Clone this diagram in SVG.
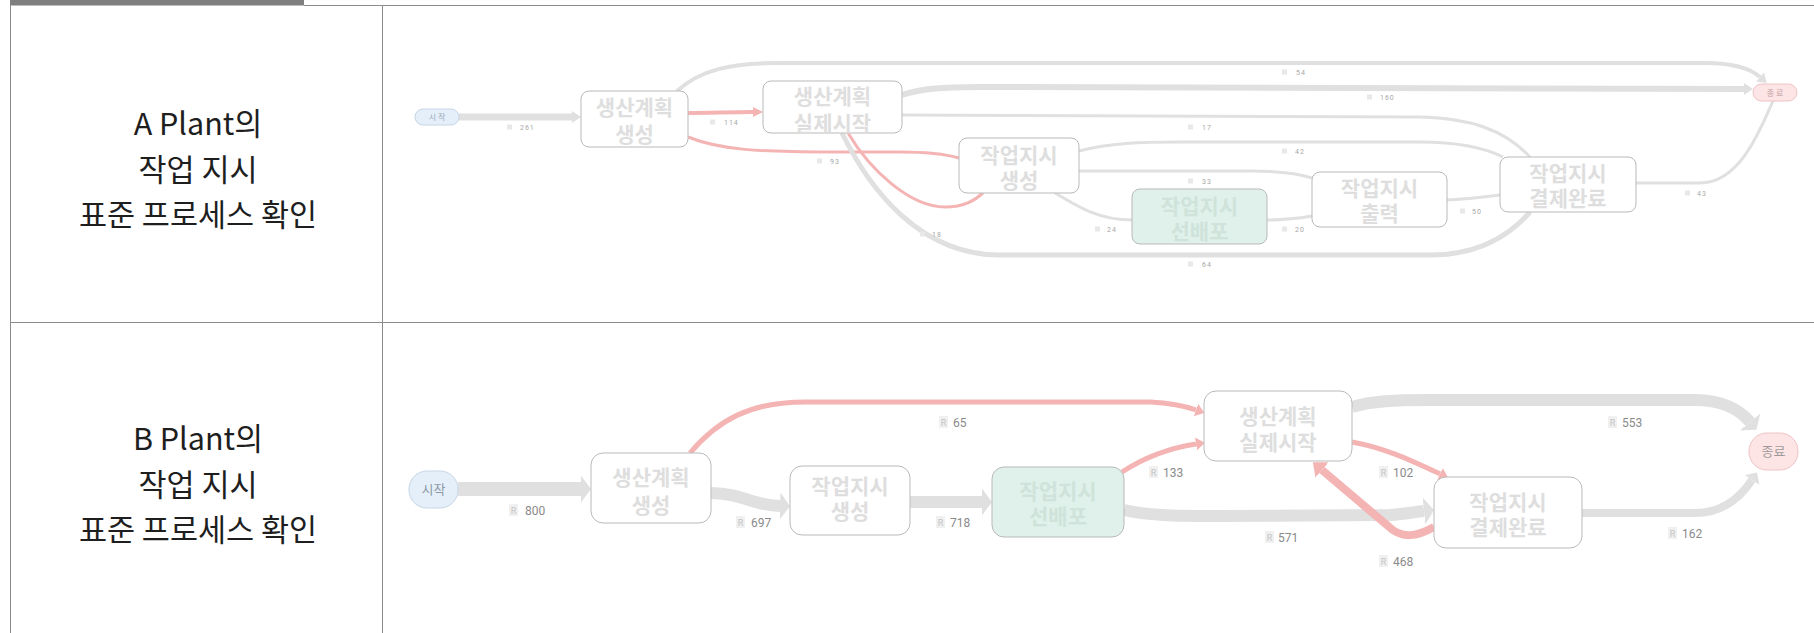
<svg xmlns="http://www.w3.org/2000/svg" width="1814" height="633" viewBox="0 0 1814 633">
<style>
.tbl{stroke:#8c8c8c;stroke-width:1;fill:none}
.ttl{font-family:"Noto Sans CJK KR","Noto Sans",sans-serif;font-size:30.5px;fill:#1e1e1e;text-anchor:middle}
.node rect{fill:#ffffff;stroke:#b9b9b9;stroke-width:1}
.node.green rect{fill:#dff1ea}
.nt{font-family:"Noto Sans CJK KR",sans-serif;font-weight:bold;font-size:21px;fill:#dedede;text-anchor:middle}
.green .nt{fill:#cfe3da}
.st rect{fill:#e4effa;stroke:#c6d5e5;stroke-width:1}
.en rect{fill:#fde4e5;stroke:#eec3c5;stroke-width:1}
.stA{font-family:"Noto Sans CJK KR",sans-serif;font-size:8px;letter-spacing:2px;fill:#9aa9ba;text-anchor:middle}
.enA{font-family:"Noto Sans CJK KR",sans-serif;font-size:8px;letter-spacing:2px;fill:#c4a3a5;text-anchor:middle}
.stB{font-family:"Noto Sans CJK KR",sans-serif;font-size:13px;fill:#8d98a4;text-anchor:middle}
.enB{font-family:"Noto Sans CJK KR",sans-serif;font-size:13px;fill:#a09a9a;text-anchor:middle}
.e{fill:none}
.g{stroke:#e0e0e0}
.r{stroke:#f5b4b4}
.ica{fill:#e8e8e8}
.icb{fill:#f0f0f0}
.icr{font-family:Roboto,sans-serif;font-size:9px;fill:#c4c4c4;text-anchor:middle}
.la{font-family:Roboto,sans-serif;font-size:7px;fill:#a8a8a8;letter-spacing:1px}
.lb{font-family:Roboto,sans-serif;font-size:12px;fill:#8a8a8a}
</style>
<defs>
<marker id="agA" viewBox="0 0 10 10" preserveAspectRatio="none" markerUnits="userSpaceOnUse" markerWidth="9" markerHeight="12" refX="0" refY="5" orient="auto"><path d="M0,0 L10,5 L0,10 z" fill="#e0e0e0"/></marker>
<marker id="arA" viewBox="0 0 10 10" preserveAspectRatio="none" markerUnits="userSpaceOnUse" markerWidth="10" markerHeight="10" refX="0" refY="5" orient="auto"><path d="M0,0 L10,5 L0,10 z" fill="#f5b4b4"/></marker>
<marker id="agB" viewBox="0 0 10 10" preserveAspectRatio="none" markerUnits="userSpaceOnUse" markerWidth="10" markerHeight="27" refX="0" refY="5" orient="auto"><path d="M0,0 L10,5 L0,10 z" fill="#e0e0e0"/></marker>
<marker id="agB2" viewBox="0 0 10 10" preserveAspectRatio="none" markerUnits="userSpaceOnUse" markerWidth="9" markerHeight="18" refX="0" refY="5" orient="auto"><path d="M0,0 L10,5 L0,10 z" fill="#e0e0e0"/></marker>
<marker id="arB" viewBox="0 0 10 10" preserveAspectRatio="none" markerUnits="userSpaceOnUse" markerWidth="9" markerHeight="13" refX="0" refY="5" orient="auto"><path d="M0,0 L10,5 L0,10 z" fill="#f5b4b4"/></marker>
<marker id="arB2" viewBox="0 0 10 10" preserveAspectRatio="none" markerUnits="userSpaceOnUse" markerWidth="12" markerHeight="20" refX="0" refY="5" orient="auto"><path d="M0,0 L10,5 L0,10 z" fill="#f5b4b4"/></marker>
</defs>
<rect width="1814" height="633" fill="#ffffff"/>
<g id="table">
<rect x="10" y="0" width="294" height="5.5" fill="#7f7f7f"/>
<path class="tbl" d="M304,5.5 H1814 M10.5,5 V633 M382.5,5 V633 M10,322.5 H1814"/>
<text class="ttl" x="198" y="135">A Plant의<tspan x="198" dy="45.5">작업 지시</tspan><tspan x="198" dy="45.5">표준 프로세스 확인</tspan></text>
<text class="ttl" x="198" y="450">B Plant의<tspan x="198" dy="45.5">작업 지시</tspan><tspan x="198" dy="45.5">표준 프로세스 확인</tspan></text>
</g>
<g id="connectors">
<path class="e g" stroke-width="7" d="M459,117 L572,117" marker-end="url(#agA)"/>
<path class="e r" stroke-width="4" d="M688,113 C710,113 730,112 753,112" marker-end="url(#arA)"/>
<path class="e r" stroke-width="3" d="M688,137 C720,150 760,152 830,152 L900,152 C930,152 945,154 959,158"/>
<path class="e g" stroke-width="4" d="M677,91 C700,70 730,63 780,63 L1705,63 C1735,63 1752,70 1760,77" marker-end="url(#agA)"/>
<path class="e g" stroke-width="6" d="M902,95 C920,89 940,87 980,87 L1744,89" marker-end="url(#agA)"/>
<path class="e g" stroke-width="3" d="M902,115 L1420,117 C1470,118 1505,130 1530,157"/>
<path class="e g" stroke-width="5" d="M842,133 C870,190 920,255 1000,255 L1430,255 C1480,255 1510,235 1530,212"/>
<path class="e r" stroke-width="3" d="M848,133 C870,170 910,207 945,207 C965,207 975,200 983,193"/>
<path class="e g" stroke-width="3" d="M1079,151 C1110,143 1140,142 1180,142 L1420,142 C1460,142 1485,148 1503,157"/>
<path class="e g" stroke-width="3" d="M1079,171 L1250,171 C1280,171 1300,174 1312,178"/>
<path class="e g" stroke-width="3" d="M1055,193 C1080,208 1100,220 1132,220"/>
<path class="e g" stroke-width="3" d="M1267,220 C1285,220 1300,218 1312,216"/>
<path class="e g" stroke-width="3" d="M1447,200 C1470,199 1485,197 1500,195"/>
<path class="e g" stroke-width="3" d="M1636,183 L1700,183 C1740,183 1760,130 1773,101"/>
<path class="e g" stroke-width="14" d="M458,489 L581,489" marker-end="url(#agB)"/>
<path class="e g" stroke-width="12" d="M711,493 C745,494 750,505 780,506" marker-end="url(#agB)"/>
<path class="e g" stroke-width="12" d="M910,502 L982,502" marker-end="url(#agB)"/>
<path class="e r" stroke-width="5" d="M690,453 C718,420 750,402 805,402 L1150,402 C1170,403 1185,406 1196,410" marker-end="url(#arB)"/>
<path class="e r" stroke-width="5" d="M1122,472 C1145,457 1170,448 1196,444" marker-end="url(#arB)"/>
<path class="e g" stroke-width="12" d="M1124,510 C1150,516 1180,516 1220,516 L1390,515 C1405,514 1414,512 1424,511" marker-end="url(#agB)"/>
<path class="e r" stroke-width="5" d="M1352,442 C1385,448 1410,460 1440,474" marker-end="url(#arB)"/>
<path class="e r" stroke-width="8" d="M1434,527 C1418,536 1402,540 1388,526 L1322,470" marker-end="url(#arB2)"/>
<path class="e g" stroke-width="12" d="M1352,407 C1372,401 1395,400 1430,400 L1695,400 C1722,400 1740,410 1750,422" marker-end="url(#agB)"/>
<path class="e g" stroke-width="8" d="M1582,513 L1695,513 C1725,513 1742,495 1752,480" marker-end="url(#agB2)"/>
</g>
<g id="labels">
<rect class="ica" x="507" y="124.5" width="5" height="5"/><text class="la" x="520" y="129.5">261</text>
<rect class="ica" x="710" y="119.5" width="5" height="5"/><text class="la" x="724" y="124.5">114</text>
<rect class="ica" x="817" y="158.5" width="5" height="5"/><text class="la" x="830" y="163.5">93</text>
<rect class="ica" x="1282" y="69.5" width="5" height="5"/><text class="la" x="1296" y="74.5">54</text>
<rect class="ica" x="1367" y="94.5" width="5" height="5"/><text class="la" x="1380" y="99.5">160</text>
<rect class="ica" x="1188" y="124.5" width="5" height="5"/><text class="la" x="1202" y="129.5">17</text>
<rect class="ica" x="1282" y="148.5" width="5" height="5"/><text class="la" x="1295" y="153.5">42</text>
<rect class="ica" x="1188" y="178.5" width="5" height="5"/><text class="la" x="1202" y="183.5">33</text>
<rect class="ica" x="1095" y="226.5" width="5" height="5"/><text class="la" x="1107" y="231.5">24</text>
<rect class="ica" x="1282" y="226.5" width="5" height="5"/><text class="la" x="1295" y="231.5">20</text>
<rect class="ica" x="1460" y="208.5" width="5" height="5"/><text class="la" x="1472" y="213.5">50</text>
<rect class="ica" x="1685" y="190.5" width="5" height="5"/><text class="la" x="1697" y="195.5">43</text>
<rect class="ica" x="1188" y="261.5" width="5" height="5"/><text class="la" x="1202" y="266.5">64</text>
<rect class="ica" x="920" y="231.5" width="5" height="5"/><text class="la" x="932" y="236.5">18</text>
<rect class="icb" x="509" y="504" width="9" height="12"/><text class="icr" x="513.5" y="513.5">R</text><text class="lb" x="525" y="514.5">800</text>
<rect class="icb" x="736" y="516" width="9" height="12"/><text class="icr" x="740.5" y="525.5">R</text><text class="lb" x="751" y="526.5">697</text>
<rect class="icb" x="936" y="516" width="9" height="12"/><text class="icr" x="940.5" y="525.5">R</text><text class="lb" x="950" y="526.5">718</text>
<rect class="icb" x="939" y="416" width="9" height="12"/><text class="icr" x="943.5" y="425.5">R</text><text class="lb" x="953" y="426.5">65</text>
<rect class="icb" x="1149" y="466" width="9" height="12"/><text class="icr" x="1153.5" y="475.5">R</text><text class="lb" x="1163" y="476.5">133</text>
<rect class="icb" x="1265" y="531" width="9" height="12"/><text class="icr" x="1269.5" y="540.5">R</text><text class="lb" x="1278" y="541.5">571</text>
<rect class="icb" x="1379" y="466" width="9" height="12"/><text class="icr" x="1383.5" y="475.5">R</text><text class="lb" x="1393" y="476.5">102</text>
<rect class="icb" x="1379" y="555" width="9" height="12"/><text class="icr" x="1383.5" y="564.5">R</text><text class="lb" x="1393" y="565.5">468</text>
<rect class="icb" x="1608" y="416" width="9" height="12"/><text class="icr" x="1612.5" y="425.5">R</text><text class="lb" x="1622" y="426.5">553</text>
<rect class="icb" x="1668" y="527" width="9" height="12"/><text class="icr" x="1672.5" y="536.5">R</text><text class="lb" x="1682" y="537.5">162</text>
</g>
<g id="A_start" class="st"><rect x="415" y="109" width="44" height="16" rx="8"/><text class="stA" x="438" y="120">시작</text></g>
<g id="A_end" class="en"><rect x="1753" y="84" width="44" height="17" rx="8.5"/><text class="enA" x="1776" y="95.5">종료</text></g>
<g id="A_plan_create" class="node"><rect x="581" y="91" width="107" height="56" rx="8"/><text class="nt" x="634.5" y="114.5">생산계획<tspan x="634.5" dy="27">생성</tspan></text></g>
<g id="A_plan_start" class="node"><rect x="763" y="81" width="139" height="52" rx="8"/><text class="nt" x="832.5" y="104">생산계획<tspan x="832.5" dy="26.5">실제시작</tspan></text></g>
<g id="A_wo_create" class="node"><rect x="959" y="138" width="120" height="55" rx="8"/><text class="nt" x="1019" y="162.5">작업지시<tspan x="1019" dy="25.5">생성</tspan></text></g>
<g id="A_wo_predist" class="node green"><rect x="1132" y="189" width="135" height="55" rx="8"/><text class="nt" x="1199.5" y="213.5">작업지시<tspan x="1199.5" dy="25.5">선배포</tspan></text></g>
<g id="A_wo_print" class="node"><rect x="1312" y="172" width="135" height="55" rx="8"/><text class="nt" x="1379.5" y="195.5">작업지시<tspan x="1379.5" dy="25.5">출력</tspan></text></g>
<g id="A_wo_done" class="node"><rect x="1500" y="157" width="136" height="55" rx="8"/><text class="nt" x="1568" y="180.5">작업지시<tspan x="1568" dy="25.5">결제완료</tspan></text></g>
<g id="B_start" class="st"><rect x="409" y="471" width="49" height="37" rx="18"/><text class="stB" x="433.5" y="494">시작</text></g>
<g id="B_end" class="en"><rect x="1749" y="433" width="49" height="37" rx="18"/><text class="enB" x="1773.5" y="456">종료</text></g>
<g id="B_plan_create" class="node"><rect x="591" y="453" width="120" height="70" rx="12"/><text class="nt" x="651" y="485">생산계획<tspan x="651" dy="27.5">생성</tspan></text></g>
<g id="B_wo_create" class="node"><rect x="790" y="466" width="120" height="69" rx="12"/><text class="nt" x="850" y="493.5">작업지시<tspan x="850" dy="25.5">생성</tspan></text></g>
<g id="B_wo_predist" class="node green"><rect x="992" y="467" width="132" height="70" rx="12"/><text class="nt" x="1058" y="498.5">작업지시<tspan x="1058" dy="25.5">선배포</tspan></text></g>
<g id="B_plan_start" class="node"><rect x="1204" y="391" width="148" height="70" rx="12"/><text class="nt" x="1278" y="424">생산계획<tspan x="1278" dy="25.5">실제시작</tspan></text></g>
<g id="B_wo_done" class="node"><rect x="1434" y="477" width="148" height="71" rx="12"/><text class="nt" x="1508" y="509.5">작업지시<tspan x="1508" dy="25.5">결제완료</tspan></text></g>
</svg>
